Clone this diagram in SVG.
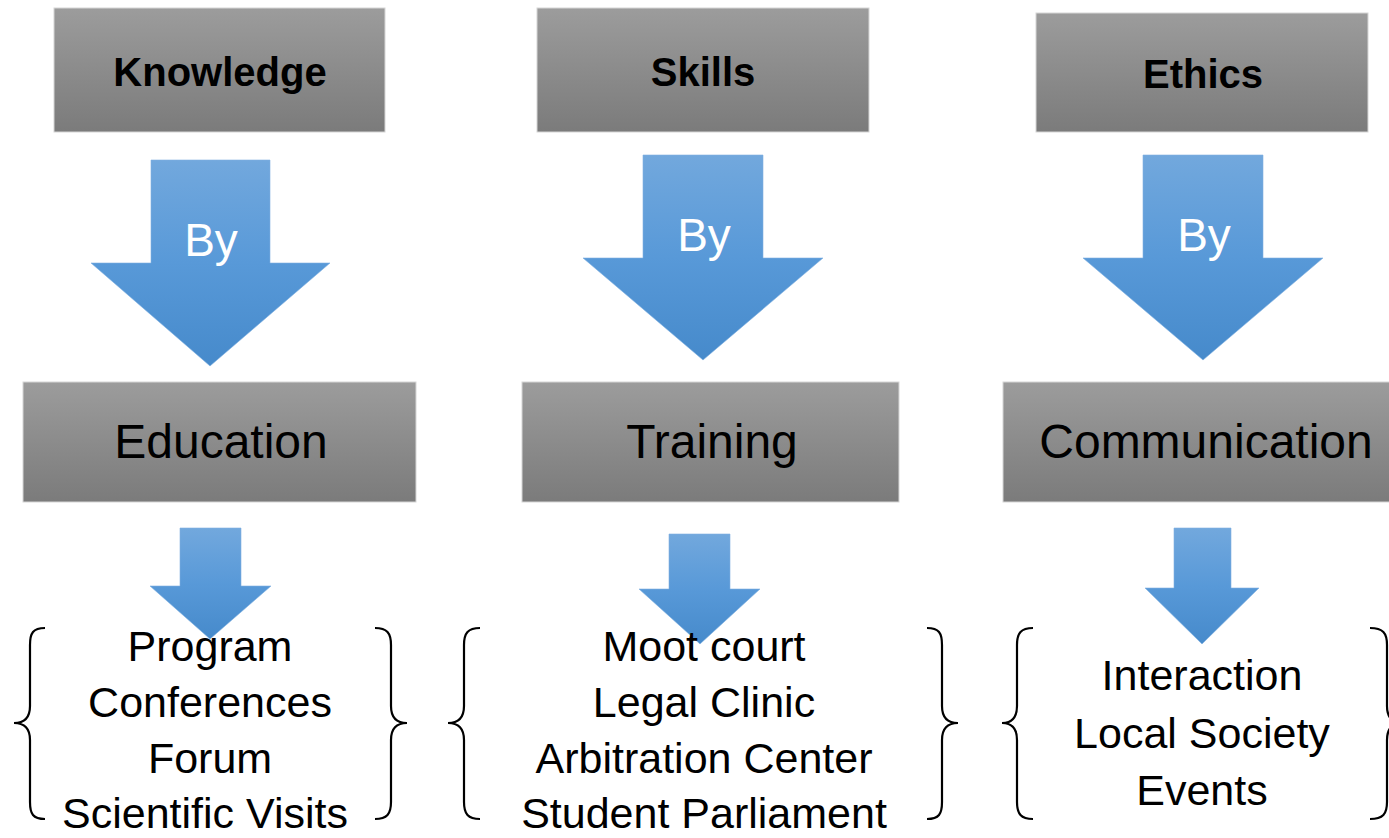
<svg xmlns="http://www.w3.org/2000/svg" width="1389" height="838" viewBox="0 0 1389 838">
<defs>
<linearGradient id="gray" x1="0" y1="0" x2="0" y2="1">
<stop offset="0" stop-color="#9c9c9c"/>
<stop offset="1" stop-color="#7b7b7b"/>
</linearGradient>
<linearGradient id="blue" x1="0" y1="0" x2="0" y2="1">
<stop offset="0" stop-color="#72a8dd"/>
<stop offset="0.5" stop-color="#5899d8"/>
<stop offset="1" stop-color="#468acb"/>
</linearGradient>
<style>
.box{fill:url(#gray);stroke:#d6d6d6;stroke-width:1}
.arrow{fill:url(#blue);stroke:#7fb0e0;stroke-width:0.6}
.title{font-family:"Liberation Sans",Arial,sans-serif;font-weight:bold;font-size:40px;fill:#000;text-anchor:middle}
.mid{font-family:"Liberation Sans",Arial,sans-serif;font-size:48px;fill:#000;text-anchor:middle}
.by{font-family:"Liberation Sans",Arial,sans-serif;font-size:46px;fill:#fff;text-anchor:middle}
.item{font-family:"Liberation Sans",Arial,sans-serif;font-size:43px;fill:#000;text-anchor:middle}
.brace{fill:none;stroke:#000;stroke-width:2.2}
</style>
</defs>
<rect width="1389" height="838" fill="#fff"/>

<g id="connectors">
<path class="arrow" d="M151,160 H270 V263 H330 L210,366 L91,263 H151 Z"/>
<path class="arrow" d="M643,155 H763 V258 H823 L703,360 L583,258 H643 Z"/>
<path class="arrow" d="M1143,155 H1263 V258 H1323 L1203,360 L1083,258 H1143 Z"/>
<path class="arrow" d="M180,528 H241 V586 H271 L210,639 L150,586 H180 Z"/>
<path class="arrow" d="M669,534 H730 V589 H760 L700,644 L639,589 H669 Z"/>
<path class="arrow" d="M1174,528 H1231 V588 H1259 L1202,644 L1145,588 H1174 Z"/>
<text class="by" x="211" y="256">By</text>
<text class="by" x="704" y="251">By</text>
<text class="by" x="1204" y="251">By</text>
</g>

<g id="knowledge">
<rect class="box" x="54" y="8" width="331" height="124"/>
<text class="title" x="220" y="86">Knowledge</text>
</g>
<g id="skills">
<rect class="box" x="537" y="8" width="332" height="124"/>
<text class="title" x="703" y="86">Skills</text>
</g>
<g id="ethics">
<rect class="box" x="1036" y="13" width="332" height="119"/>
<text class="title" x="1203" y="88">Ethics</text>
</g>

<g id="education">
<rect class="box" x="23" y="382" width="393" height="120"/>
<text class="mid" x="221" y="458">Education</text>
</g>
<g id="training">
<rect class="box" x="522" y="382" width="377" height="120"/>
<text class="mid" x="712" y="458">Training</text>
</g>
<g id="communication">
<rect class="box" x="1003" y="382" width="400" height="120"/>
<text class="mid" x="1206" y="458">Communication</text>
</g>

<g id="education-items">
<path class="brace" d="M45,628 C33,628 30,633 30,645 V706 C30,717 25,723 14,723 C25,723 30,729 30,740 V802 C30,814 33,819 45,819"/>
<path class="brace" d="M375,628 C387,628 391,633 391,645 V706 C391,717 396,723 407,723 C396,723 391,729 391,740 V802 C391,814 387,819 375,819"/>
<text class="item" x="210" y="661">Program</text>
<text class="item" x="210" y="717">Conferences</text>
<text class="item" x="210" y="773">Forum</text>
<text class="item" x="205" y="828">Scientific Visits</text>
</g>

<g id="training-items">
<path class="brace" d="M480,628 C468,628 464,633 464,645 V706 C464,717 459,723 448,723 C459,723 464,729 464,740 V802 C464,814 468,819 480,819"/>
<path class="brace" d="M927,628 C939,628 942,633 942,645 V706 C942,717 947,723 958,723 C947,723 942,729 942,740 V802 C942,814 939,819 927,819"/>
<text class="item" x="704" y="661">Moot court</text>
<text class="item" x="704" y="717">Legal Clinic</text>
<text class="item" x="704" y="773">Arbitration Center</text>
<text class="item" x="704" y="828">Student Parliament</text>
</g>

<g id="communication-items">
<path class="brace" d="M1033,628 C1021,628 1017,633 1017,645 V706 C1017,717 1012,723 1002,723 C1012,723 1017,729 1017,740 V802 C1017,814 1021,819 1033,819"/>
<path class="brace" d="M1370,628 C1383,628 1387,633 1387,645 V706 C1387,717 1392,723 1403,723 C1392,723 1387,729 1387,740 V802 C1387,814 1383,819 1370,819"/>
<text class="item" x="1202" y="690">Interaction</text>
<text class="item" x="1202" y="748">Local Society</text>
<text class="item" x="1202" y="805">Events</text>
</g>
</svg>
